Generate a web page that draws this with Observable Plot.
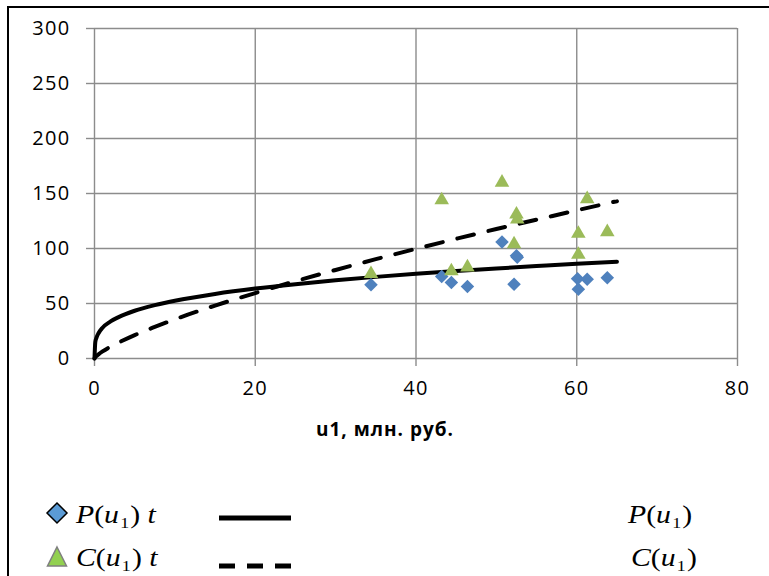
<!DOCTYPE html>
<html>
<head>
<meta charset="utf-8">
<script src="https://cdn.jsdelivr.net/npm/d3@7"></script>
<script src="https://cdn.jsdelivr.net/npm/@observablehq/plot@0.6"></script>
<style>
  body { margin: 0; background: #fff; }
  #wrap { position: relative; width: 769px; height: 576px; overflow: hidden; background: #fff; }
  #frame { position: absolute; left: 7px; top: 6px; width: 800px; height: 600px;
           border-left: 2.5px solid #000; border-top: 2.5px solid #000; box-sizing: border-box; }
  #chart { position: absolute; left: 0; top: 0; }
  #chart svg text { letter-spacing: 1.3px; }
  #xlabel { position: absolute; left: 316px; top: 416px; font: bold 19px "Open Sans", sans-serif; letter-spacing: 1px; color: #000; white-space: nowrap; }
  .math { position: absolute; font: 25px "Liberation Serif", "Times New Roman", serif; line-height: 25px; white-space: nowrap; color: #000;
          transform: scaleX(1.19); transform-origin: 0 0; }
  .math i { font-style: italic; }
  .math .s { font-size: 15px; position: relative; top: 5px; margin-left: 1px; margin-right: 1px; }
  .mk { position: absolute; }
</style>
</head>
<body>
<div id="wrap">
  <div id="frame"></div>
  <div id="chart"></div>
  <div id="xlabel"></div>
  <div id="legend"></div>
</div>
<script>
// ---- data ----
const xTicks = [0, 20, 40, 60, 80];
const yTicks = [0, 50, 100, 150, 200, 250, 300];
const xLabel = "u1, млн. руб.";

// observed points (u1, P t, C t)
const u1Obs = [34.4, 43.2, 44.4, 46.4, 50.7, 52.5, 52.6, 52.2, 60.1, 60.2, 61.3, 63.8];
const pObs  = [67, 74.5, 69, 65.5, 106, 93.5, 92, 67.5, 72.5, 63, 72, 73.5];
const u1ObsC = [34.4, 43.2, 44.4, 46.4, 50.7, 52.5, 52.6, 52.2, 60.2, 60.2, 61.3, 63.8];
const cObs  = [77, 144, 79.5, 83, 160, 131, 126.5, 104, 113.5, 94.5, 145, 115];

// fitted curves
const uCurve = [0, 0.1, 0.25, 0.5, 1, 2, 3, 5, 7.5, 10, 15, 20, 25, 30, 35, 40, 45, 50, 55, 60, 65];
const pCurve = [0, 15, 19, 23, 28, 33.7, 37.6, 43.4, 48.5, 52.5, 58.7, 63.6, 67.6, 71.1, 74.2, 77, 79.5, 81.8, 84, 86.1, 88];
const cCurve = [0, 1.2, 2.3, 3.8, 6.4, 10.8, 14.5, 21.3, 28.7, 35.6, 48.1, 59.5, 70.3, 80.5, 90.3, 99.7, 108.8, 117.7, 126.2, 134.7, 143];

const legendRows = [
  {name: "P", marker: "diamond", dashed: false},
  {name: "C", marker: "triangle", dashed: true}
];

// ---- build tables ----
const curve = uCurve.map((u, i) => ({u, p: pCurve[i], c: cCurve[i]}));
const ptsP = u1Obs.map((u, i) => ({u, v: pObs[i]}));
const ptsC = u1ObsC.map((u, i) => ({u, v: cObs[i]}));

const grid = "#8c8c8c";
const chart = Plot.plot({
  width: 769,
  height: 460,
  marginLeft: 94,
  marginRight: 32,
  marginTop: 28,
  marginBottom: 102,
  style: {fontFamily: "'Open Sans', sans-serif", fontSize: "20px", color: "#000", background: "transparent", overflow: "visible"},
  x: {domain: [0, 80], label: null},
  y: {domain: [0, 300], label: null},
  marks: [
    Plot.gridX(xTicks, {stroke: grid, strokeOpacity: 1, strokeWidth: 1.4}),
    Plot.gridY(yTicks, {stroke: grid, strokeOpacity: 1, strokeWidth: 1.4}),
    Plot.axisX(xTicks, {tickSize: 8, tickPadding: 14, stroke: grid, strokeWidth: 1.4, fill: "#000", fontSize: 20, label: null}),
    Plot.axisY(yTicks, {tickSize: 8, tickPadding: 16, stroke: grid, strokeWidth: 1.4, fill: "#000", fontSize: 20, label: null}),
    Plot.line(curve, {x: "u", y: "p", stroke: "#000", strokeWidth: 4, curve: "monotone-x"}),
    Plot.line(curve, {x: "u", y: "c", stroke: "#000", strokeWidth: 4, strokeDasharray: "17,15", curve: "monotone-x"}),
    Plot.dot(ptsP, {x: "u", y: "v", symbol: "diamond2", r: 6.1, fill: "#4F81BD", stroke: "none"}),
    Plot.dot(ptsC, {x: "u", y: "v", symbol: "triangle", r: 5.4, fill: "#9BBB59", stroke: "none"})
  ]
});
document.getElementById("chart").appendChild(chart);
document.getElementById("xlabel").textContent = xLabel;

// ---- legend ----
const leg = document.getElementById("legend");
function mathLabel(name, withT) {
  return `<i>${name}</i>(<i>u</i><span class="s">1</span>)` + (withT ? `&nbsp;<i>t</i>` : "");
}
legendRows.forEach((row, i) => {
  const top = 502 + i * 43;
  // marker
  const mk = document.createElementNS("http://www.w3.org/2000/svg", "svg");
  mk.setAttribute("width", 24); mk.setAttribute("height", 24);
  mk.setAttribute("class", "mk");
  mk.style.left = "45px"; mk.style.top = (top - 1 + i) + "px";
  if (row.marker === "diamond") {
    mk.innerHTML = `<polygon points="12,2 22,12 12,22 2,12" fill="#5B9BD5" stroke="#000" stroke-width="1.5"/>`;
  } else {
    mk.innerHTML = `<polygon points="12,2 21.5,21 2.5,21" fill="#92D050" stroke="#7f7f7f" stroke-width="1.5"/>`;
  }
  leg.appendChild(mk);
  // left label
  const t1 = document.createElement("div");
  t1.className = "math";
  t1.style.left = "76px"; t1.style.top = top + "px";
  t1.innerHTML = mathLabel(row.name, true);
  leg.appendChild(t1);
  // line sample
  const ln = document.createElementNS("http://www.w3.org/2000/svg", "svg");
  ln.setAttribute("width", 80); ln.setAttribute("height", 12);
  ln.setAttribute("class", "mk");
  ln.style.left = "219px"; ln.style.top = (top + 10 + (row.dashed ? 5 : 0)) + "px";
  ln.innerHTML = `<line x1="0" x2="72" y1="6" y2="6" stroke="#000" stroke-width="5" ${row.dashed ? 'stroke-dasharray="16,12"' : ""}/>`;
  leg.appendChild(ln);
  // right label
  const t2 = document.createElement("div");
  t2.className = "math";
  t2.style.left = (628 + i * 3) + "px"; t2.style.top = top + "px";
  t2.innerHTML = mathLabel(row.name, false);
  leg.appendChild(t2);
});
</script>
</body>
</html>
